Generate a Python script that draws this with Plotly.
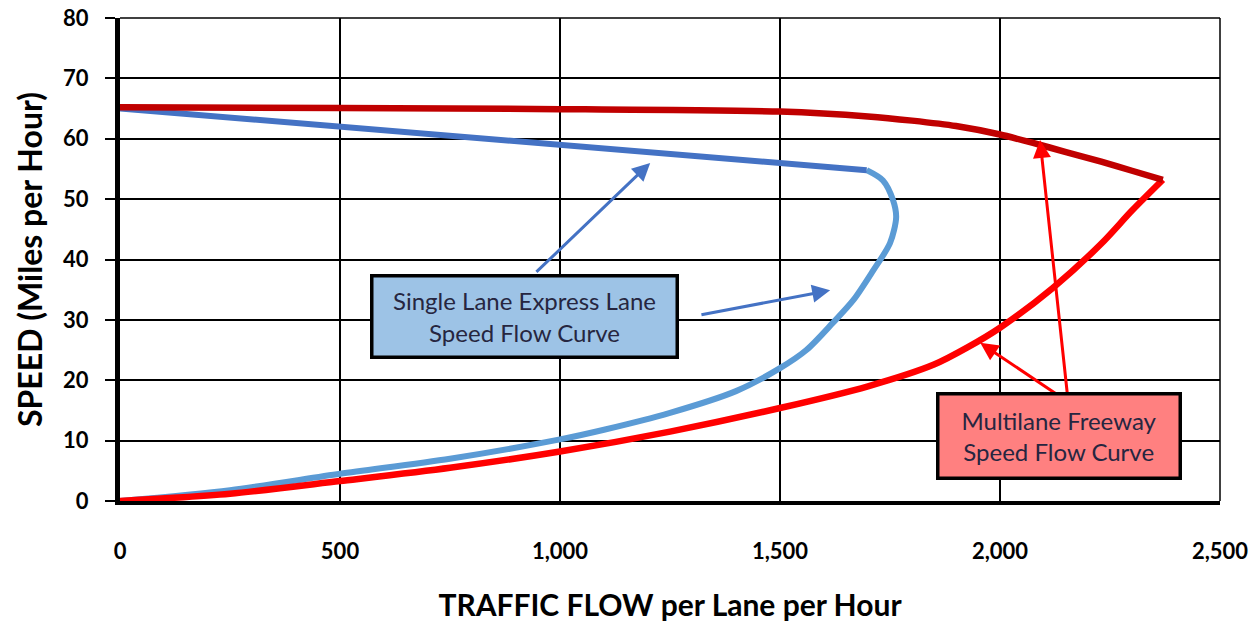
import plotly.graph_objects as go

# ---- data ----
multi_low_x = [0, 250, 500, 750, 1000, 1250, 1500, 1700, 1850, 1925, 2000, 2120, 2230, 2300, 2370]
multi_low_y = [0, 1.2, 3.3, 5.5, 8.2, 11.5, 15.4, 19.0, 22.6, 25.4, 28.7, 35.3, 42.6, 48.1, 53.2]
multi_up_x = [2370, 2300, 2230, 2150, 2075, 2000, 1900, 1800, 1700, 1500, 1000, 500, 0]
multi_up_y = [53.2, 54.7, 56.2, 57.8, 59.3, 60.7, 62.1, 63.0, 63.7, 64.5, 64.9, 65.1, 65.2]

single_low_x = [0, 250, 500, 750, 1000, 1100, 1250, 1400, 1500, 1560, 1620, 1667, 1712, 1750, 1764, 1757, 1734, 1697]
single_low_y = [0, 1.8, 4.5, 7.0, 10.2, 11.8, 14.6, 18.2, 22.0, 25.0, 29.5, 33.3, 38.2, 42.7, 47.0, 49.8, 53.1, 54.8]
single_up_x = [1697, 1000, 500, 0]
single_up_y = [54.8, 59.0, 62.0, 65.0]

x_ticks = [0, 500, 1000, 1500, 2000, 2500]
x_tick_labels = ["0", "500", "1,000", "1,500", "2,000", "2,500"]
y_ticks = [0, 10, 20, 30, 40, 50, 60, 70, 80]

FONT = "Lato"

fig = go.Figure()
fig.add_trace(go.Scatter(x=single_low_x, y=single_low_y, mode="lines",
                         line=dict(color="#5B9BD5", width=6, shape="spline", smoothing=0.8),
                         showlegend=False, hoverinfo="skip"))
fig.add_trace(go.Scatter(x=single_up_x, y=single_up_y, mode="lines",
                         line=dict(color="#4472C4", width=6),
                         showlegend=False, hoverinfo="skip"))
fig.add_trace(go.Scatter(x=multi_low_x, y=multi_low_y, mode="lines",
                         line=dict(color="#FF0000", width=6.5, shape="spline", smoothing=0.8),
                         showlegend=False, hoverinfo="skip"))
fig.add_trace(go.Scatter(x=multi_up_x, y=multi_up_y, mode="lines",
                         line=dict(color="#C00000", width=6.5, shape="spline", smoothing=0.6),
                         showlegend=False, hoverinfo="skip"))

# arrows
arrows = [
    dict(x=1205, y=56, ax=943, ay=37.7, color="#4472C4"),
    dict(x=1614, y=34.9, ax=1318, ay=30.8, color="#4472C4"),
    dict(x=2091, y=59.8, ax=2155, ay=16.4, color="#FF0000"),
    dict(x=1955, y=26.2, ax=2155, ay=16.4, color="#FF0000"),
]
annotations = []
for a in arrows:
    annotations.append(dict(x=a["x"], y=a["y"], ax=a["ax"], ay=a["ay"], xref="x", yref="y",
                            axref="x", ayref="y", text="", showarrow=True, arrowhead=2,
                            arrowsize=1.2, arrowwidth=3, arrowcolor=a["color"]))

annotations.append(dict(x=920, y=30.6, xref="x", yref="y", showarrow=False,
                        text="Single Lane Express Lane<br>Speed Flow Curve",
                        font=dict(family=FONT, size=24, color="#262640"),
                        bgcolor="#9DC3E6", bordercolor="black", borderwidth=3.5, borderpad=2,
                        width=298, height=74))
annotations.append(dict(x=2135, y=10.8, xref="x", yref="y", showarrow=False,
                        text="Multilane Freeway<br>Speed Flow Curve",
                        font=dict(family=FONT, size=24, color="#262640"),
                        bgcolor="#FF8080", bordercolor="black", borderwidth=3.5, borderpad=2,
                        width=235, height=77))

fig.update_layout(
    width=1258, height=623,
    margin=dict(l=120, r=38, t=18, b=122),
    paper_bgcolor="white", plot_bgcolor="white",
    font=dict(family=FONT, color="black"),
    annotations=annotations,
    xaxis=dict(range=[0, 2500], tickvals=x_ticks, ticktext=x_tick_labels,
               showgrid=True, gridcolor="black", gridwidth=1.5,
               showline=True, linecolor="black", linewidth=4,
               ticks="", ticklabelstandoff=28, automargin=False,
               tickfont=dict(family=FONT, size=22, color="black", weight="bold"),
               title=dict(text="<b>TRAFFIC FLOW per Lane per Hour</b>",
                          font=dict(family=FONT, size=30, color="black"), standoff=33),
               zeroline=False, fixedrange=True),
    yaxis=dict(range=[0, 80], tickvals=y_ticks,
               showgrid=True, gridcolor="black", gridwidth=1.5,
               showline=True, linecolor="black", linewidth=5,
               ticks="outside", ticklen=10, tickcolor="black", tickwidth=1.5,
               ticklabelstandoff=12, automargin=False,
               tickfont=dict(family=FONT, size=22, color="black", weight="bold"),
               title=dict(text="<b>SPEED (Miles per Hour)</b>",
                          font=dict(family=FONT, size=32, color="black"), standoff=12),
               zeroline=False, fixedrange=True),
    shapes=[
        dict(type="line", xref="paper", yref="paper", x0=0, x1=1, y0=1, y1=1,
             line=dict(color="black", width=1.5), layer="below"),
        dict(type="line", xref="paper", yref="paper", x0=1, x1=1, y0=0, y1=1,
             line=dict(color="black", width=1.5), layer="below"),
    ],
)

fig.write_html("out.html", config={"displayModeBar": False},
               post_script="document.body.style.margin='0';document.body.style.overflow='hidden';")
